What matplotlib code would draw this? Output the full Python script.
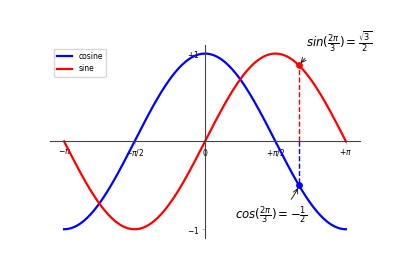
import numpy as np
import matplotlib
matplotlib.use("Agg")
from matplotlib import pyplot as plt

# x samples and the two curves
X = np.linspace(-np.pi, np.pi, 256)
C = np.cos(X)
S = np.sin(X)

xticks = [-np.pi, -np.pi / 2, 0, np.pi / 2, np.pi]
xticklabels = [r'$-\pi$', r'$-\pi/2$', r'$0$', r'$+\pi/2$', r'$+\pi$']
yticks = [-1, 1]
yticklabels = [r'$-1$', r'$+1$']

t = 2 * np.pi / 3
cos_t = np.cos(t)
sin_t = np.sin(t)

fig = plt.figure(figsize=(4, 2.8), dpi=100)
ax = fig.add_axes([0.125, 0.15, 0.775, 0.69])

ax.spines['right'].set_color('none')
ax.spines['top'].set_color('none')
ax.xaxis.set_ticks_position('bottom')
ax.spines['bottom'].set_position(('data', 0))
ax.yaxis.set_ticks_position('left')
ax.spines['left'].set_position(('data', 0))
for name in ['bottom', 'left']:
    ax.spines[name].set_linewidth(0.8)
    ax.spines[name].set_color('#444444')

plt.plot(X, C, color='blue', linewidth=1.6, linestyle='-', label='cosine')
plt.plot(X, S, color='red', linewidth=1.6, linestyle='-', label='sine')

plt.xlim(X.min() * 1.1, X.max() * 1.1)
plt.xticks(xticks, xticklabels)
plt.ylim(C.min() * 1.1, C.max() * 1.1)
plt.yticks(yticks, yticklabels)

plt.legend(loc='upper left', fontsize=5.5)

plt.plot([t, t], [0, cos_t], color='blue', linewidth=1.0, linestyle='--')
plt.scatter([t], [cos_t], 15, color='blue', zorder=5)
plt.annotate(r'$cos(\frac{2\pi}{3})=-\frac{1}{2}$',
             xy=(t, cos_t), xycoords='data',
             xytext=(-46, -24), textcoords='offset points', fontsize=8.5,
             arrowprops=dict(arrowstyle='->', connectionstyle='arc3,rad=.2',
                             linewidth=0.6))

plt.plot([t, t], [0, sin_t], color='red', linewidth=1.0, linestyle='--')
plt.scatter([t], [sin_t], 15, color='red', zorder=5)
plt.annotate(r'$sin(\frac{2\pi}{3})=\frac{\sqrt{3}}{2}$',
             xy=(t, sin_t), xycoords='data',
             xytext=(5, 13), textcoords='offset points', fontsize=8.5,
             arrowprops=dict(arrowstyle='->', connectionstyle='arc3,rad=.2',
                             linewidth=0.6))

for label in ax.get_xticklabels() + ax.get_yticklabels():
    label.set_fontsize(5.5)
    label.set_bbox(dict(facecolor='white', edgecolor='None', alpha=0.65))
ax.tick_params(length=2, width=0.5, pad=2)

plt.savefig('out.png', dpi=100)
